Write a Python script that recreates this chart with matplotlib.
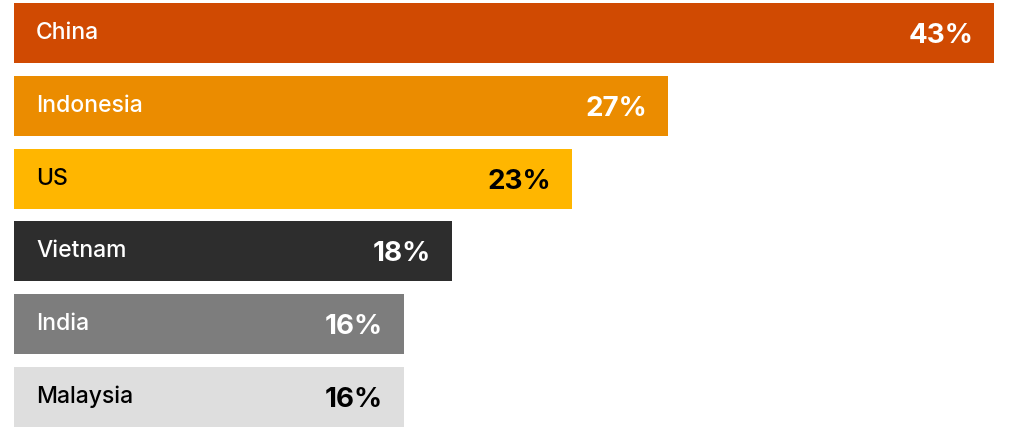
import matplotlib.pyplot as plt

# country shares, bar lengths, labels as printed
countries = ['China', 'Indonesia', 'US', 'Vietnam', 'India', 'Malaysia']
bar_values = [43, 28.7, 24.5, 19.2, 17.1, 17.1]
value_labels = ['43%', '27%', '23%', '18%', '16%', '16%']
colors = ['#D04A02', '#EB8C00', '#FFB600', '#2D2D2D', '#7D7D7D', '#DEDEDE']
text_colors = ['white', 'white', 'black', 'white', 'white', 'black']

plt.rcParams['font.family'] = ['Inter', 'Liberation Sans', 'DejaVu Sans']

fig = plt.figure(figsize=(10.24, 4.28), dpi=100)
ax = fig.add_axes([14 / 1024, 0, 1010 / 1024, 1])

ypos = list(range(len(countries)))
ax.barh(ypos, bar_values, height=60 / 72.8, color=colors)

for y, name, v, lab, tc in zip(ypos, countries, bar_values, value_labels, text_colors):
    ax.text(22 / 980 * 43, y, name, color=tc, fontsize=16.5, fontweight='medium',
            va='center', ha='left')
    ax.text(v - 21 / 980 * 43, y + 0.04, lab, color=tc, fontsize=20, fontweight='bold',
            va='center', ha='right')

ax.set_xlim(0, 1010 / 980 * 43)
ax.set_ylim((428 - 33) / 72.8, -33 / 72.8)
ax.axis('off')

fig.savefig('out.png', dpi=100)
